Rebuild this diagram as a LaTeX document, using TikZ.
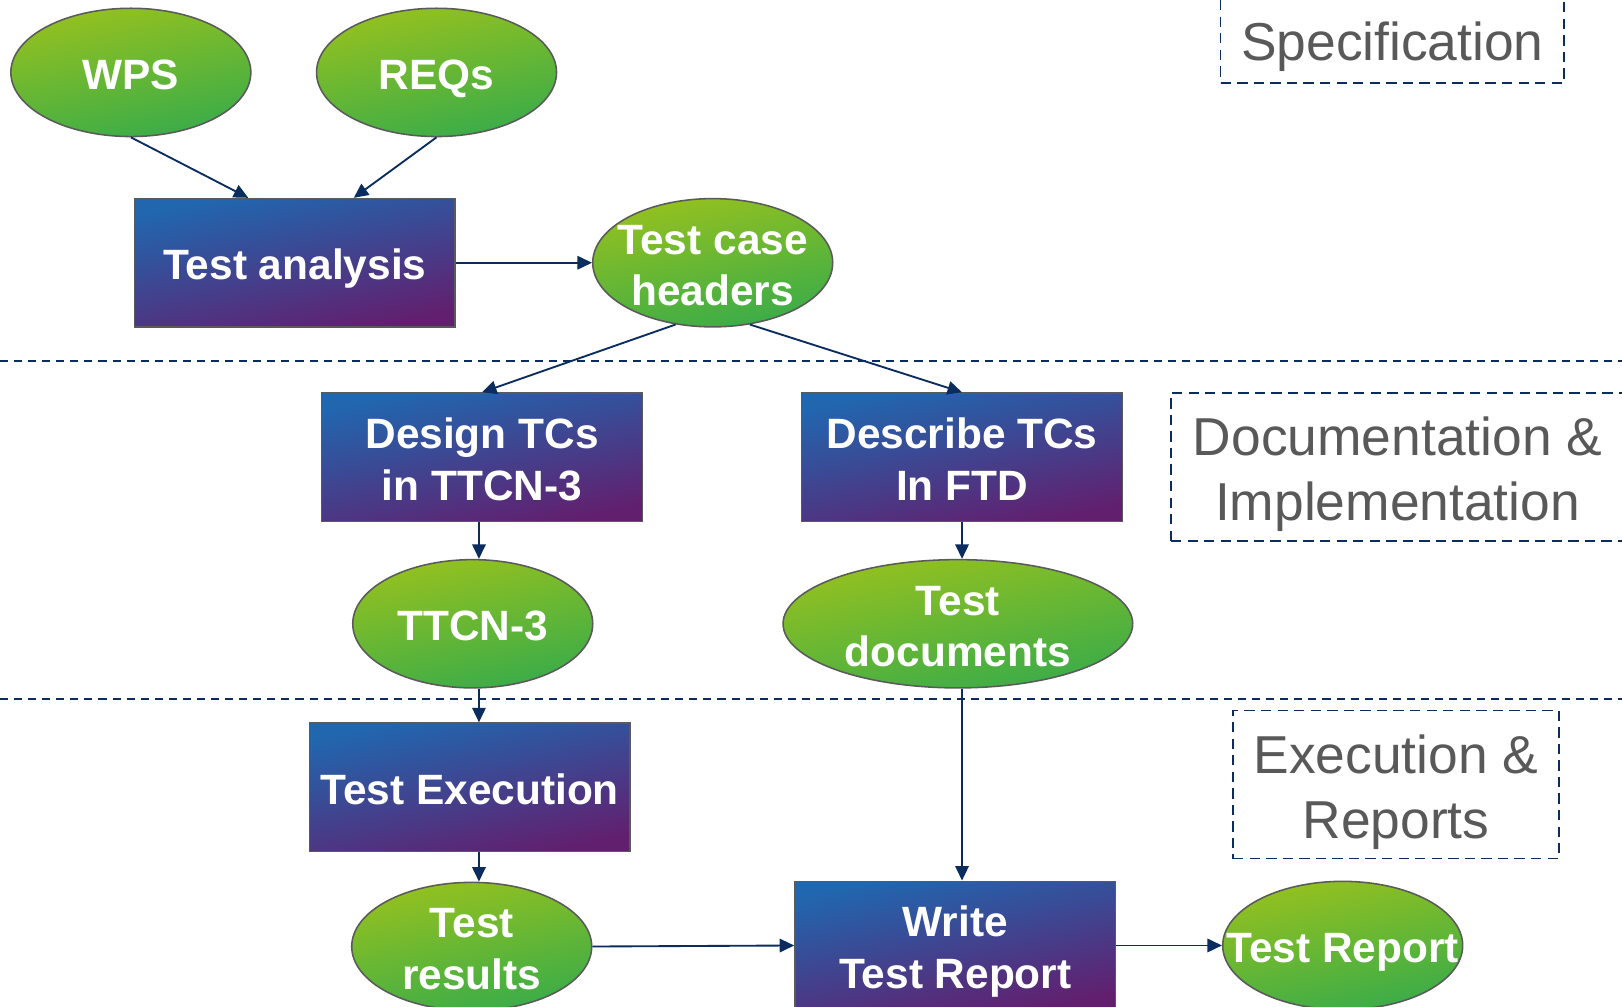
\documentclass[tikz,border=0pt]{standalone}
\usepackage{fontspec}
\setmainfont{Liberation Sans}
\usetikzlibrary{arrows.meta,calc,shapes.geometric}
\definecolor{boxA}{HTML}{2067AF}
\definecolor{boxB}{HTML}{621F6E}
\definecolor{ellA}{HTML}{95C11F}
\definecolor{ellB}{HTML}{39AC49}
\definecolor{edgegray}{HTML}{5A5A5A}
\definecolor{navy}{HTML}{0B2C5E}
\definecolor{labelgray}{HTML}{595959}
\newcommand\ntstrut{\rule{0pt}{21.6pt}}
\newcommand\phstrut{\rule{0pt}{26.3pt}}
\begin{document}
\begin{tikzpicture}[x=0.5pt,y=-0.5pt,
 nodetext/.style={text=white, font=\fontsize{20.5}{25}\selectfont\bfseries, align=center,
   execute at begin node={\ntstrut}, text depth=5pt},
 procbox/.style={rectangle, draw=edgegray, line width=0.75pt, top color=boxA, bottom color=boxB, shading angle=12, minimum width=155pt, minimum height=62pt, inner sep=0pt, nodetext},
 dataell/.style={ellipse, draw=edgegray, line width=0.75pt, top color=ellA, bottom color=ellB, shading angle=12, minimum width=116pt, minimum height=62pt, inner sep=-22pt, nodetext},
 arr/.style={draw=navy, line width=0.9pt, -{Triangle[length=7pt,width=6.5pt]}},
 sep/.style={draw=navy, line width=0.9pt, dash pattern=on 3.9pt off 2.9pt},
 phase/.style={draw=navy, line width=0.75pt, dash pattern=on 5pt off 3pt, text=labelgray, font=\fontsize{25.8}{31.5}\selectfont, align=center, inner sep=0pt,
   execute at begin node={\phstrut}, text depth=6pt}
]
\useasboundingbox (0,0) rectangle (1568,973);
% separators
\coordinate (s1l) at (0,349); \coordinate (s1r) at (1568,349);
\coordinate (s2l) at (0,676); \coordinate (s2r) at (1568,676);
\draw[sep] (s1l) -- (s1r);
\draw[sep] (s2l) -- (s2r);
% nodes
\node[dataell] (wps) at (126.5,70) {WPS};
\node[dataell] (reqs) at (422,70) {REQs};
\node[procbox] (ta) at (285,254) {Test analysis};
\node[dataell] (tch) at (689,254) {\ntstrut Test case\\headers};
\node[procbox] (design) at (466,442) {\ntstrut Design TCs\\in TTCN-3};
\node[procbox] (describe) at (930,442) {\ntstrut Describe TCs\\In FTD};
\node[dataell] (ttcn) at (457,603) {TTCN-3};
\node[dataell, minimum width=169pt] (tdocs) at (926,603) {\ntstrut Test\\documents};
\node[procbox] (exec) at (454,761) {Test Execution};
\node[dataell] (tres) at (456,915) {\ntstrut Test\\results};
\node[procbox] (write) at (923.5,914) {\ntstrut Write\\Test Report};
\node[dataell] (trep) at (1298,914) {Test Report};
% phase labels
\node[phase, minimum width=166pt, minimum height=42pt] (spec) at (1346,38) {Specification};
\node[phase, minimum width=219pt, minimum height=71.5pt] (doc) at (1351,451.5) {\phstrut Documentation \&\\Implementation};
\node[phase, minimum width=157.5pt, minimum height=71.5pt] (execrep) at (1349.5,758.5) {\phstrut Execution \&\\Reports};
% connectors
\coordinate (colA) at (463,0);
\coordinate (colB) at (930,0);
\draw[arr] (wps.south) -- ($(ta.north)+(-45,0)$);
\draw[arr] (reqs.south) -- ($(ta.north)+(57,0)$);
\draw[arr] (ta.east) -- (tch.west);
\draw[arr] (tch.-121) -- (design.north);
\draw[arr] (tch.-59) -- (describe.north);
\draw[arr] (design.south -| colA) -- (ttcn.north -| colA);
\draw[arr] (ttcn.south -| colA) -- (exec.north -| colA);
\draw[arr] (exec.south -| colA) -- (tres.north -| colA);
\draw[arr] (describe.south -| colB) -- (tdocs.north -| colB);
\draw[arr] (tdocs.south -| colB) -- (write.north -| colB);
\draw[arr] (tres.east) -- (write.west);
\draw[arr] (write.east) -- (trep.west);
\end{tikzpicture}
\end{document}
